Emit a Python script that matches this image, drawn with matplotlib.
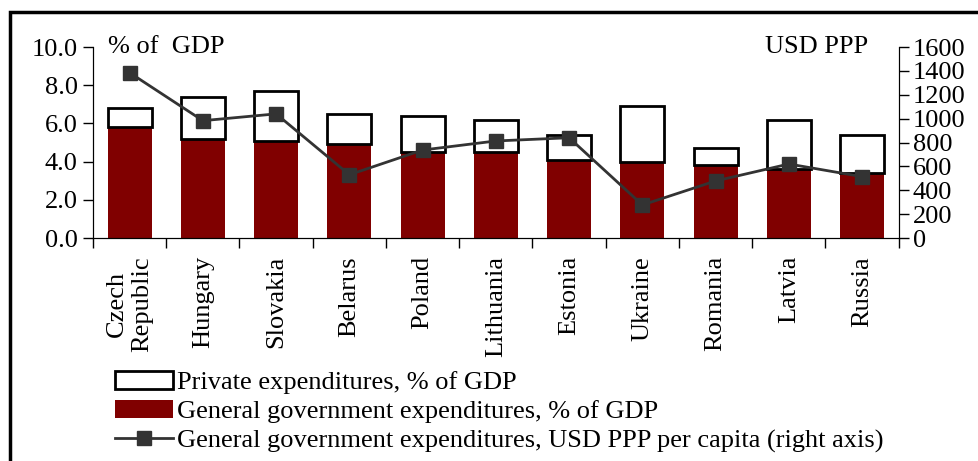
import matplotlib
matplotlib.use("Agg")
import matplotlib.pyplot as plt
from matplotlib.patches import Patch, Rectangle
from matplotlib.lines import Line2D
import matplotlib.ticker as mticker
import numpy as np

plt.rcParams["font.family"] = ["Liberation Serif", "DejaVu Serif"]

# ── Data ──

COUNTRIES = ["Czech\nRepublic", "Hungary", "Slovakia", "Belarus", "Poland",
             "Lithuania", "Estonia", "Ukraine", "Romania", "Latvia", "Russia"]
GOV_PCT_GDP = [5.8, 5.2, 5.1, 4.9, 4.5, 4.5, 4.1, 4.0, 3.8, 3.6, 3.4]
TOTAL_PCT_GDP = [6.8, 7.4, 7.7, 6.5, 6.4, 6.2, 5.4, 6.9, 4.7, 6.2, 5.4]
GOV_USD_PPP = [1385, 983, 1040, 530, 737, 813, 840, 277, 478, 620, 514]

PRIVATE_PCT_GDP = [t - g for t, g in zip(TOTAL_PCT_GDP, GOV_PCT_GDP)]

GOV_COLOR = "#800000"
LINE_COLOR = "#333333"
FS = 19

fig = plt.figure(figsize=(9.79, 4.61), dpi=100)
ax = fig.add_axes([0.095, 0.4837, 0.823, 0.4143])

x = np.arange(len(COUNTRIES))
ax.bar(x, GOV_PCT_GDP, 0.6, color=GOV_COLOR, linewidth=0, zorder=2)
ax.bar(x, PRIVATE_PCT_GDP, 0.6, bottom=GOV_PCT_GDP, facecolor="white",
       edgecolor="black", linewidth=2.0, zorder=2)

ax.set_xlim(-0.5, len(COUNTRIES) - 0.5)
ax.set_ylim(0, 10)
ax.yaxis.set_major_locator(mticker.MultipleLocator(2))
ax.yaxis.set_major_formatter(mticker.FormatStrFormatter("%.1f"))
ax.set_xticks(x)
ax.set_xticklabels(COUNTRIES, rotation=90, ha="center", va="top",
                   multialignment="center", fontsize=FS)
ax.set_xticks(np.arange(len(COUNTRIES) + 1) - 0.5, minor=True)
ax.tick_params(axis="x", which="major", length=0, pad=13)
ax.tick_params(axis="x", which="minor", length=7, width=1, direction="out")
ax.tick_params(axis="y", labelsize=FS, length=7, width=1, direction="out", pad=4)
ax.spines["top"].set_visible(False)
ax.text(0.018, 1.0, "% of  GDP", transform=ax.transAxes, fontsize=FS,
        ha="left", va="center")

ax2 = ax.twinx()
ax2.plot(x, GOV_USD_PPP, color=LINE_COLOR, linewidth=2, marker="s",
         markersize=10, zorder=3)
ax2.set_ylim(0, 1600)
ax2.yaxis.set_major_locator(mticker.MultipleLocator(200))
ax2.tick_params(axis="y", labelsize=FS, length=7, width=1, direction="out", pad=3)
ax2.spines["top"].set_visible(False)
ax2.text(0.962, 1.0, "USD PPP", transform=ax2.transAxes, fontsize=FS,
         ha="right", va="center")

handles = [
    Patch(facecolor="white", edgecolor="black", linewidth=2.0),
    Patch(facecolor=GOV_COLOR, edgecolor="none"),
    Line2D([0], [0], color=LINE_COLOR, linewidth=2, marker="s", markersize=10),
]
labels = [
    "Private expenditures, % of GDP",
    "General government expenditures, % of GDP",
    "General government expenditures, USD PPP per capita (right axis)",
]
fig.legend(handles, labels, loc="upper left", bbox_to_anchor=(0.1175, 0.196),
           frameon=False, fontsize=FS, borderpad=0, borderaxespad=0,
           handlelength=2.2, handletextpad=0.15, labelspacing=0.22)

# outer frame
fig.patches.append(Rectangle((10 / 979, -0.1), 1.2, 0.973 + 0.1,
                             transform=fig.transFigure, fill=False,
                             edgecolor="black", linewidth=2.5))

fig.savefig("out.png", dpi=100)
